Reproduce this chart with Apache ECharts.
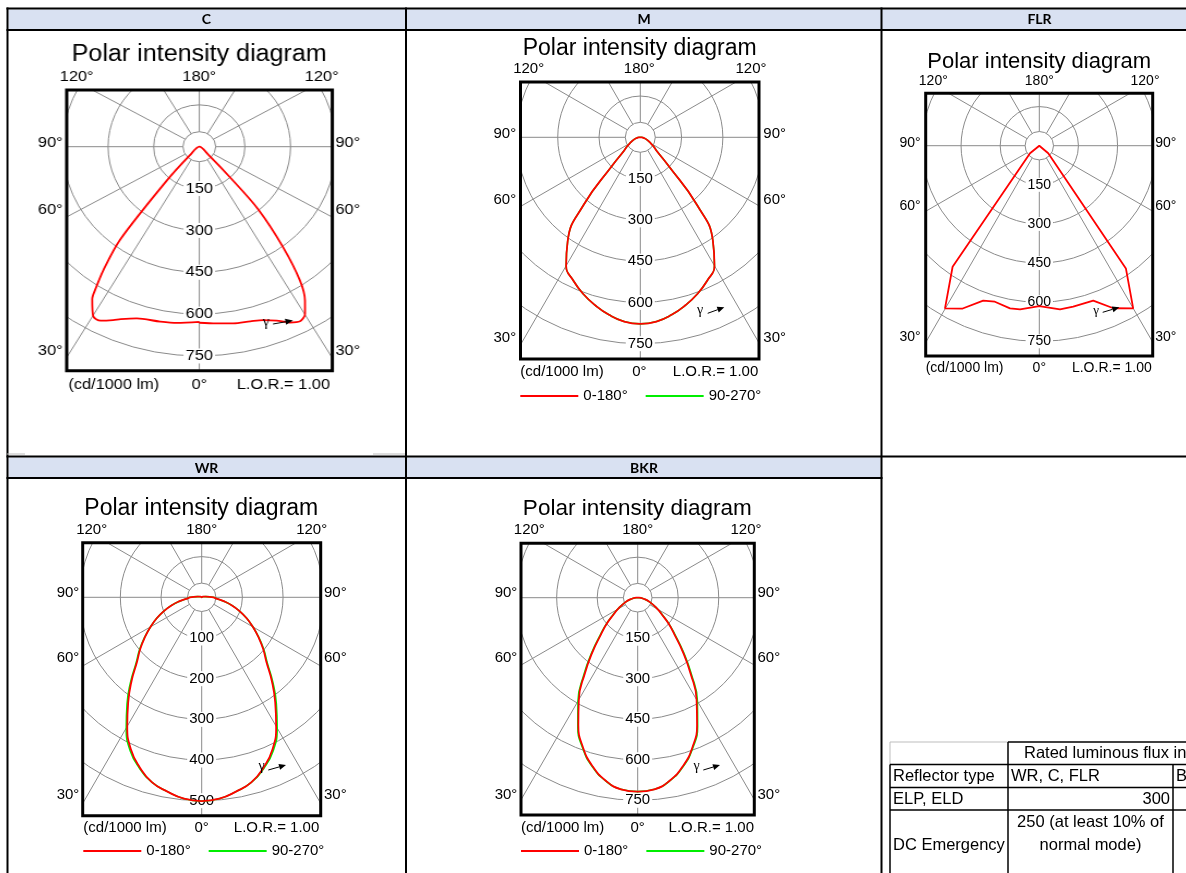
<!DOCTYPE html>
<html>
<head>
<meta charset="utf-8">
<title>Polar intensity diagrams</title>
<script src="https://cdn.jsdelivr.net/npm/echarts@6/dist/echarts.min.js"></script>
<style>
  html, body { margin: 0; padding: 0; background: #fff; }
  #page { position: relative; width: 1186px; height: 873px; overflow: hidden; background: #fff; }
  .chart { position: absolute; }
</style>
</head>
<body>
<div id="page">
  <div id="table" class="chart" style="left:0;top:0;width:1186px;height:873px"></div>
  <div id="pC" class="chart"></div>
  <div id="pM" class="chart"></div>
  <div id="pFLR" class="chart"></div>
  <div id="pWR" class="chart"></div>
  <div id="pBKR" class="chart"></div>
</div>
<script>
// ---------- data ----------
const headerRow1 = ['C', 'M', 'FLR'];
const headerRow2 = ['WR', 'BKR'];
const legendNames = ['0-180°', '90-270°'];
const topAngleLabels = ['120°', '180°', '120°'];
const sideAngleLabels = ['90°', '60°', '30°'];
const rings150 = [150, 300, 450, 600, 750];
const rings100 = [100, 200, 300, 400, 500];

// C : both halves read separately (gamma in degrees from nadir, cd/1000 lm)
const cAngleRight = [0, 5, 10, 15, 18.7, 22.2, 25.3, 27.9, 30.1, 32.2, 34.6, 37.4, 40.8, 42.6, 46, 180];
const cValueRight = [631, 636, 643, 648, 656, 673, 697, 708, 693, 652, 583, 454, 295, 150, 42, 0];
const cAngleLeft = [0, 6.7, 11.6, 18.5, 22.7, 24.5, 27.5, 29.9, 32.8, 33.7, 35.5, 38, 41.4, 45.7, 180];
const cValueLeft = [628, 636, 640, 649, 670, 683, 703, 700, 650, 618, 543, 424, 162, 42, 0];

// M (symmetric)
const mAngle = [0, 5, 10, 15, 20, 25, 30, 35, 40, 45, 50, 55, 60, 70, 80, 90, 180];
const mValue = [678, 672, 655, 632, 606, 575, 539, 460, 320, 140, 80, 60, 44, 25, 12, 5, 0];

// FLR (polygon vertices)
const flrAngleRight = [0, 7.2, 11.9, 19.2, 24.5, 30, 35.2, 49.6, 180];
const flrValueRight = [615, 633, 631, 629, 685, 720, 576, 45, 0];
const flrAngleLeft = [0, 6.7, 10.2, 15.9, 19.9, 25.2, 30.1, 35.6, 50.6, 180];
const flrValueLeft = [615, 632, 634, 622, 632, 690, 721, 571, 46, 0];

// WR
const wrAngle = [0, 5, 10, 15, 20, 25, 30, 35, 40, 45, 50, 55, 60, 65, 70, 75, 80, 85, 90, 100, 120, 180];
const wrRed = [501, 497, 485, 471, 445, 412, 366, 315, 268, 225, 197, 170, 145, 122, 99, 77, 55, 36, 29, 10, 3, 0];
const wrGreen = [501, 497, 485, 471, 447, 416, 371, 320, 272, 228, 199, 171, 145, 122, 99, 77, 55, 36, 29, 10, 3, 0];

// BKR
const bkrAngle = [0, 5, 10, 15, 20, 25, 30, 35, 40, 45, 50, 55, 60, 70, 80, 90, 180];
const bkrRed = [718, 712, 687, 646, 591, 520, 436, 340, 258, 192, 149, 110, 85, 48, 22, 5, 0];
const bkrGreen = [718, 712, 688, 648, 594, 525, 442, 347, 264, 197, 152, 112, 86, 48, 22, 5, 0];

// small table at the bottom right
const fluxRows = [
  ['Reflector type', 'WR, C, FLR', 'BKR, M'],
  ['ELP, ELD', '300', ''],
  ['DC Emergency', '250 (at least 10% of\nnormal mode)', '']
];
const fluxTitle = 'Rated luminous flux in emergency mode (lm)';

// ---------- styling ----------
const FONT = '"Liberation Sans", Arial, sans-serif';
const gridColor = '#8a8a8a';
const RED = '#ff0000';
const GREEN = '#00ee00';

// right half: angle = gamma, left half: angle = 360 - gamma
function curveData(angR, valR, angL, valL) {
  const pts = angR.map((g, i) => [valR[i], g]);
  for (let i = angL.length - 1; i >= 0; i--) {
    if (angL[i] === 180) continue;
    pts.push([valL[i], 360 - angL[i]]);
  }
  return pts;
}

const panels = [
  {
    el: 'pC', box: [9, 31, 396, 422], sx: 1.09,
    frame: [66.7, 90, 332.3, 370.7], center: [199.3, 146.7], pxPerUnit: 0.279,
    rings: rings150, axisMax: 1050, hub: 15,
    title: [199.2, 55], titleSize: 23,
    topY: 77.3, topX: [76.7, 199.3, 321.7],
    sideX: [50.3, 347.8], sideY: [142.7, 210, 350.7],
    bottomY: 385, zeroX: 199.3, unitsX: 68.3, lorX: 330,
    gamma: [266, 322.7], arrow: [273, 324, 293, 320.5],
    smooth: 0.3,
    curves: [{ name: legendNames[0], color: RED, data: curveData(cAngleRight, cValueRight, cAngleLeft, cValueLeft) }]
  },
  {
    el: 'pM', box: [408, 31, 472, 423],
    frame: [520.5, 82, 759, 359], center: [640.3, 137.3], pxPerUnit: 0.2752,
    rings: rings150, axisMax: 1050, hub: 15,
    title: [639.7, 48.3], titleSize: 23,
    topY: 69.3, topX: [528.7, 639.3, 751],
    sideX: [504.8, 774.7], sideY: [134, 200, 338.3],
    bottomY: 371.7, zeroX: 639.3, unitsX: 520.3, lorX: 758.3,
    gamma: [700, 310], arrow: [707.7, 313.3, 724.3, 307.3],
    legend: [520.3, 396], smooth: true,
    curves: [
      { name: legendNames[1], color: GREEN, data: curveData(mAngle, mValue, mAngle, mValue) },
      { name: legendNames[0], color: RED, data: curveData(mAngle, mValue, mAngle, mValue) }
    ]
  },
  {
    el: 'pFLR', box: [883, 31, 303, 423],
    frame: [925.7, 93.3, 1152.7, 356], center: [1039.3, 145.7], pxPerUnit: 0.2608,
    rings: rings150, axisMax: 1050, hub: 14.2, fontSize: 14,
    title: [1039.2, 61.7], titleSize: 22,
    topY: 80.7, topX: [933.3, 1039.3, 1145],
    sideX: [910, 1165.8], sideY: [143.3, 205.7, 337.3],
    bottomY: 368.3, zeroX: 1039.3, unitsX: 925.7, lorX: 1151.7,
    gamma: [1096, 310.7], arrow: [1102.7, 312.3, 1119.3, 307.3],
    smooth: false,
    curves: [{ name: legendNames[0], color: RED, data: curveData(flrAngleRight, flrValueRight, flrAngleLeft, flrValueLeft) }]
  },
  {
    el: 'pWR', box: [9, 480, 396, 393],
    frame: [82.7, 542.7, 320.7, 815.7], center: [201.7, 597.3], pxPerUnit: 0.4068,
    rings: rings100, axisMax: 700, hub: 14.2,
    title: [201.3, 508.3], titleSize: 23,
    topY: 530, topX: [91.7, 201.7, 311.7],
    sideX: [68, 335.3], sideY: [592.7, 658.3, 795],
    bottomY: 828.3, zeroX: 201.7, unitsX: 83.3, lorX: 319.3,
    gamma: [261.7, 766.7], arrow: [268.3, 770, 286, 765],
    legend: [83.3, 851], smooth: true,
    curves: [
      { name: legendNames[1], color: GREEN, data: curveData(wrAngle, wrGreen, wrAngle, wrGreen) },
      { name: legendNames[0], color: RED, data: curveData(wrAngle, wrRed, wrAngle, wrRed) }
    ]
  },
  {
    el: 'pBKR', box: [408, 480, 472, 393],
    frame: [521, 543.3, 754.3, 815], center: [637.7, 597.7], pxPerUnit: 0.2701,
    rings: rings150, axisMax: 1050, hub: 14.3,
    title: [637.3, 509], titleSize: 22.5,
    topY: 530, topX: [529.3, 637.7, 746],
    sideX: [506, 768.8], sideY: [593.3, 658.3, 795],
    bottomY: 827.7, zeroX: 637.7, unitsX: 521, lorX: 754,
    gamma: [696.7, 766.7], arrow: [703.3, 770, 720, 765],
    legend: [521, 851], smooth: true,
    curves: [
      { name: legendNames[1], color: GREEN, data: curveData(bkrAngle, bkrGreen, bkrAngle, bkrGreen) },
      { name: legendNames[0], color: RED, data: curveData(bkrAngle, bkrRed, bkrAngle, bkrRed) }
    ]
  }
];

function buildPanel(cfg) {
  const el = document.getElementById(cfg.el);
  const sx = cfg.sx || 1;
  const [bx, by, bw, bh] = cfg.box;
  el.style.left = bx + 'px';
  el.style.top = by + 'px';
  el.style.width = (bw / sx) + 'px';
  el.style.height = bh + 'px';
  if (sx !== 1) {
    el.style.transform = 'scaleX(' + sx + ')';
    el.style.transformOrigin = '0 0';
  }
  const X = x => (x - bx) / sx;
  const Y = y => y - by;
  const W = bw / sx, H = bh;
  const fs = cfg.fontSize || 15;
  const fx1 = X(cfg.frame[0]), fy1 = Y(cfg.frame[1]), fx2 = X(cfg.frame[2]), fy2 = Y(cfg.frame[3]);
  const cx = X(cfg.center[0]), cy = Y(cfg.center[1]);
  const step = cfg.rings[1] - cfg.rings[0];
  const lastRing = cfg.rings[cfg.rings.length - 1];
  const ringColors = [];
  for (let v = 0; v <= cfg.axisMax; v += step) {
    ringColors.push(v > 0 && v <= lastRing ? gridColor : 'rgba(0,0,0,0)');
  }

  const text = (x, y, s, size, align, font) => ({
    type: 'text', z: 10, silent: true, x: X(x), y: Y(y),
    style: { text: s, font: size + 'px ' + (font || FONT), fill: '#000', align: align || 'center', verticalAlign: 'middle' }
  });

  const g = [];
  // white masks clip the grid to the frame (they overlap a little, the frame stroke hides the seam)
  const m = 1;
  [
    [-2, -2, W + 4, fy1 + 2 + m],
    [-2, fy2 - m, W + 4, H - fy2 + 2 + m],
    [-2, fy1 - m, fx1 + 2 + m, fy2 - fy1 + 2 * m],
    [fx2 - m, fy1 - m, W - fx2 + 2 + m, fy2 - fy1 + 2 * m]
  ].forEach(r => {
    g.push({ type: 'rect', z: 3, silent: true, shape: { x: r[0], y: r[1], width: r[2], height: r[3] }, style: { fill: '#fff', stroke: null } });
  });
  // lamp hub
  g.push({ type: 'circle', z: 1, silent: true, shape: { cx: cx, cy: cy, r: cfg.hub }, style: { fill: '#fff', stroke: gridColor, lineWidth: 1 } });
  // frame
  g.push({ type: 'rect', z: 10, silent: true, shape: { x: fx1, y: fy1, width: fx2 - fx1, height: fy2 - fy1 }, style: { fill: 'none', stroke: '#000', lineWidth: 3 } });

  g.push(text(cfg.title[0], cfg.title[1], 'Polar intensity diagram', cfg.titleSize));
  topAngleLabels.forEach((s, i) => g.push(text(cfg.topX[i], cfg.topY, s, fs)));
  sideAngleLabels.forEach((s, i) => {
    g.push(text(cfg.sideX[0], cfg.sideY[i], s, fs));
    g.push(text(cfg.sideX[1], cfg.sideY[i], s, fs));
  });
  g.push(text(cfg.unitsX, cfg.bottomY, '(cd/1000 lm)', fs, 'left'));
  g.push(text(cfg.zeroX, cfg.bottomY, '0°', fs));
  g.push(text(cfg.lorX, cfg.bottomY, 'L.O.R.= 1.00', fs, 'right'));

  // gamma arrow
  g.push(text(cfg.gamma[0], cfg.gamma[1], 'γ', fs - 1, 'center', '"Liberation Serif", serif'));
  const ax1 = X(cfg.arrow[0]), ay1 = Y(cfg.arrow[1]), ax2 = X(cfg.arrow[2]), ay2 = Y(cfg.arrow[3]);
  const ang = Math.atan2(ay2 - ay1, ax2 - ax1);
  const hx = ax2 - 7 * Math.cos(ang), hy = ay2 - 7 * Math.sin(ang);
  g.push({ type: 'line', z: 10, silent: true, shape: { x1: ax1, y1: ay1, x2: hx, y2: hy }, style: { stroke: '#000', lineWidth: 1 } });
  g.push({
    type: 'polygon', z: 10, silent: true,
    shape: { points: [[ax2, ay2], [hx + 3 * Math.sin(ang), hy - 3 * Math.cos(ang)], [hx - 3 * Math.sin(ang), hy + 3 * Math.cos(ang)]] },
    style: { fill: '#000' }
  });

  const option = {
    animation: false,
    textStyle: { fontFamily: FONT },
    polar: { center: [cx, cy], radius: [0, cfg.pxPerUnit * cfg.axisMax] },
    angleAxis: {
      type: 'value', min: 0, max: 360, interval: 30,
      startAngle: 270, clockwise: false,
      axisLine: { show: false }, axisTick: { show: false }, axisLabel: { show: false },
      splitLine: { show: true, lineStyle: { color: gridColor, width: 1 } }
    },
    radiusAxis: {
      type: 'value', min: 0, max: cfg.axisMax, interval: step,
      axisLine: { show: false }, axisTick: { show: false },
      splitLine: { show: true, lineStyle: { color: ringColors, width: 1 } },
      axisLabel: {
        margin: 0, align: 'center', verticalAlign: 'middle',
        fontSize: fs, fontFamily: FONT, color: '#000',
        backgroundColor: '#fff', padding: [0, 2],
        formatter: v => (v > 0 && v <= lastRing) ? String(v) : ''
      }
    },
    legend: cfg.legend ? {
      data: legendNames, left: X(cfg.legend[0]), top: Y(cfg.legend[1]) - 7.5,
      padding: 0, itemWidth: 58, itemHeight: 2, itemGap: 18, icon: 'rect',
      selectedMode: false,
      textStyle: { fontSize: fs, fontFamily: FONT, color: '#000' }
    } : { show: false },
    series: cfg.curves.map(c => ({
      type: 'line', name: c.name, coordinateSystem: 'polar',
      data: c.data, smooth: cfg.smooth, showSymbol: false, symbol: 'none',
      lineStyle: { color: c.color, width: c.color === RED ? 1.8 : 1.6 },
      itemStyle: { color: c.color }, silent: true
    })),
    graphic: { elements: g }
  };
  const chart = echarts.init(el);
  chart.setOption(option);
}

function buildTable() {
  const chart = echarts.init(document.getElementById('table'));
  const g = [];
  const line = (x1, y1, x2, y2, w, c) => g.push({ type: 'line', z: 5, silent: true, shape: { x1, y1, x2, y2 }, style: { stroke: c || '#000', lineWidth: w || 2 } });
  const text = (x, y, s, opt) => g.push({
    type: 'text', z: 6, silent: true, x, y,
    style: Object.assign({ text: s, font: '16.5px ' + FONT, fill: '#000', align: 'left', verticalAlign: 'middle' }, opt || {})
  });

  // header fills
  g.push({ type: 'rect', z: 1, silent: true, shape: { x: 8.5, y: 9.5, width: 1178, height: 19.5 }, style: { fill: '#d9e1f2' } });
  g.push({ type: 'rect', z: 1, silent: true, shape: { x: 8.5, y: 457.5, width: 872, height: 19.5 }, style: { fill: '#d9e1f2' } });

  // outer grid
  line(6.5, 8.5, 1186, 8.5);
  line(6.5, 30, 1186, 30);
  line(7.5, 7.5, 7.5, 873);
  line(406, 7.5, 406, 873);
  line(881.5, 7.5, 881.5, 873);
  line(6.5, 456.5, 1186, 456.5);
  line(6.5, 478, 882.5, 478);
  line(7, 454, 25, 454, 1, '#bdbdbd');
  line(373, 454, 405, 454, 1, '#bdbdbd');

  // header labels
  const headFont = 'bold 14px Lato, "Liberation Sans", sans-serif';
  [206.5, 644, 1039.5].forEach((x, i) => text(x, 19.5, headerRow1[i], { font: headFont, align: 'center' }));
  [206.5, 644].forEach((x, i) => text(x, 468, headerRow2[i], { font: headFont, align: 'center' }));

  // flux table
  const colX = [890, 1008, 1173];
  const rowY = [742, 764.5, 787.5, 810];
  line(colX[0], rowY[0], colX[1], rowY[0], 1, '#bdbdbd');
  line(colX[0], rowY[0], colX[0], rowY[1], 1, '#bdbdbd');
  line(colX[1], rowY[0], 1186, rowY[0], 1.5);
  rowY.slice(1).forEach(y => line(colX[0], y, 1186, y, 1.5));
  line(colX[0], rowY[1], colX[0], 873, 1.5);
  line(colX[1], rowY[0], colX[1], 873, 1.5);
  line(colX[2], rowY[1], colX[2], 873, 1.5);

  text(1024, 753, fluxTitle);
  text(893, 776, fluxRows[0][0]);
  text(1011, 776, fluxRows[0][1]);
  text(1176, 776, fluxRows[0][2]);
  text(893, 799, fluxRows[1][0]);
  text(1170, 799, fluxRows[1][1], { align: 'right' });
  text(893, 845, fluxRows[2][0]);
  text(1090.5, 833.5, fluxRows[2][1], { align: 'center', lineHeight: 23 });

  chart.setOption({ animation: false, graphic: { elements: g } });
}

buildTable();
panels.forEach(buildPanel);
</script>
</body>
</html>
